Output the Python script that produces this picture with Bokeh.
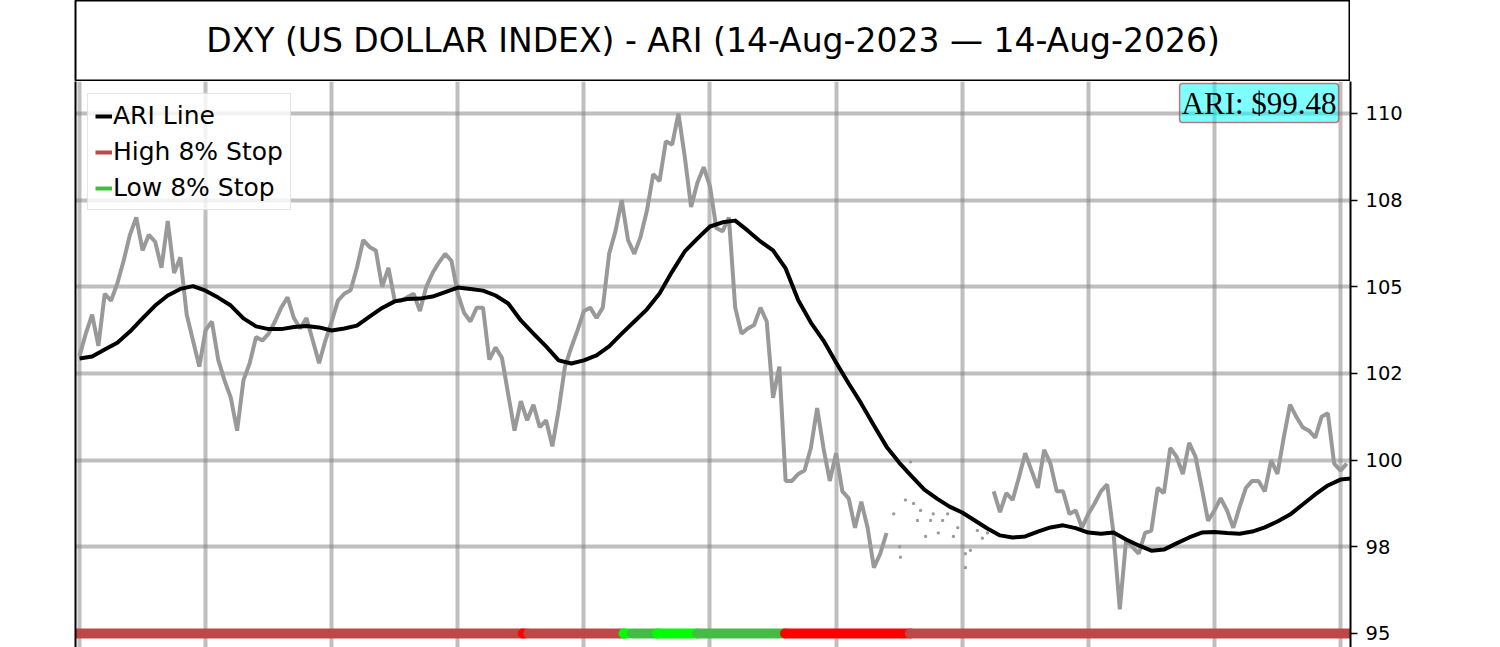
import numpy as np
from bokeh.plotting import figure
from bokeh.models import Range1d, FixedTicker, LinearAxis, Grid, Legend, LegendItem, Label
from bokeh.layouts import column
from bokeh.embed import file_html
from bokeh.resources import INLINE
from bokeh.core.properties import value

# ---------------- data ----------------
title_text = "DXY (US DOLLAR INDEX) - ARI (14-Aug-2023 \u2014 14-Aug-2026)"

# DXY closes sampled about weekly (sample index 0..201); nan = no continuous data
price_values = [
    103.0, 103.65, 104.2, 103.3, 104.8, 104.6, 105.1, 105.75, 106.5, 107.0,
    106.05, 106.5, 106.3, 105.55, 106.9, 105.4, 105.85, 104.2, 103.45, 102.7,
    103.75, 104.0, 102.9, 102.3, 101.8, 100.85, 102.3, 102.8, 103.55, 103.45,
    103.65, 104.0, 104.4, 104.7, 104.1, 103.8, 104.1, 103.45, 102.8, 103.45,
    104.0, 104.6, 104.8, 104.9, 105.55, 106.35, 106.15, 106.05, 105.0, 105.55,
    104.6, 104.6, 104.7, 104.8, 104.3, 105.0, 105.4, 105.7, 105.95, 105.75,
    104.8, 104.25, 104.0, 104.4, 104.4, 102.9, 103.25, 102.95, 101.9, 100.85,
    101.7, 101.15, 101.6, 100.95, 101.15, 100.4, 101.45, 102.7, 103.25, 103.75,
    104.3, 104.4, 104.1, 104.4, 105.95, 106.6, 107.5, 106.35, 105.95, 106.45,
    107.2, 108.25, 108.05, 109.2, 109.1, 110.0, 108.75, 107.3, 108.0, 108.45,
    107.9, 106.7, 106.6, 107.0, 104.4, 103.65, 103.8, 103.9, 104.4, 104.0,
    101.8, 102.7, 99.4, 99.4, 99.6, 99.7, 100.35, 101.5, 100.35, 99.4,
    100.2, 99.1, 98.9, 98.05, 98.8, 98.05, 96.9, 97.3, 97.9, np.nan,
    np.nan, np.nan, np.nan, np.nan, np.nan, np.nan, np.nan, np.nan, np.nan, np.nan,
    np.nan, np.nan, np.nan, np.nan, np.nan, 99.1, 98.5, 99.05, 98.85, 99.5,
    100.2, 99.7, 99.2, 100.3, 99.9, 99.1, 99.1, 98.45, 98.55, 98.05,
    98.45, 98.75, 99.1, 99.3, 97.9, 95.7, 97.7, 97.5, 97.3, 97.9,
    97.97, 99.2, 99.05, 100.35, 100.1, 99.6, 100.5, 100.1, 99.2, 98.25,
    98.55, 98.9, 98.55, 98.05, 98.65, 99.2, 99.4, 99.4, 99.1, 100.0,
    99.6, 100.65, 101.6, 101.25, 100.95, 100.85, 100.65, 101.25, 101.35, 99.9,
    99.7, 99.9,
]

# isolated prints in the thin-data stretch
sparse_idx = [129.15, 130.1, 130.2, 131.0, 131.8, 132.3, 132.9, 133.4, 134.2, 135.0,
              135.4, 136.2, 136.9, 137.7, 138.6, 139.3, 140.5, 140.5, 141.3, 142.4,
              143.2, 144.0]
sparse_values = [98.45, 97.5, 97.2, 98.85, 99.95, 98.75, 98.26, 98.55, 97.8, 98.26,
                 98.45, 97.9, 98.26, 98.45, 97.8, 98.05, 97.3, 96.9, 97.4, 97.97,
                 97.75, 97.9]

# ARI line, one value every 2 samples
ari_step = 2
ari_values = [
    102.93, 102.99, 103.19, 103.39, 103.71, 104.09, 104.46, 104.75, 104.94, 105.02,
    104.89, 104.69, 104.46, 104.09, 103.86, 103.78, 103.78, 103.84, 103.87, 103.83,
    103.74, 103.80, 103.88, 104.14, 104.39, 104.58, 104.65, 104.66, 104.72, 104.85,
    104.98, 104.94, 104.89, 104.75, 104.52, 104.03, 103.65, 103.28, 102.88, 102.79,
    102.88, 103.02, 103.28, 103.65, 104.00, 104.35, 104.81, 105.44, 106.02, 106.39,
    106.74, 106.86, 106.91, 106.62, 106.31, 106.05, 105.53, 104.61, 103.97, 103.45,
    102.82, 102.21, 101.63, 101.00, 100.39, 99.93, 99.53, 99.15, 98.89, 98.66,
    98.49, 98.26, 98.03, 97.83, 97.77, 97.80, 97.94, 98.06, 98.12, 98.04,
    97.91, 97.88, 97.91, 97.71, 97.54, 97.39, 97.42, 97.60, 97.77, 97.91,
    97.93, 97.90, 97.88, 97.94, 98.06, 98.23, 98.43, 98.72, 99.01, 99.27,
    99.44, 99.48,
]

# 8% stop state bar
stop_level = 95
stop_start = [-2, 70.3, 71.2, 86.3, 87.6, 91.6, 98.0, 111.9, 131.7]
stop_end = [70.3, 70.9, 86.4, 87.1, 91.8, 98.0, 112.0, 131.8, 202]
stop_state = ["high", "high_new", "high", "low_new", "low", "low_new", "low", "high_new", "high"]

y_tick_values = [95, 97.5, 100, 102.5, 105, 107.5, 110]
y_tick_labels = ["95", "98", "100", "102", "105", "108", "110"]
x_grid_idx = [0, 20, 40, 60, 80, 100, 120, 140, 160, 180, 200]

legend_labels = ["ARI Line", "High 8% Stop", "Low 8% Stop"]

# ---------------- styling ----------------
FONT = "DejaVu Sans"
HIGH = "#BD4846"
LOW = "#44BB44"
state_colors = {"high": HIGH, "high_new": "#FF0000", "low": LOW, "low_new": "#00FF00"}

# ---------------- title box ----------------
t = figure(frame_width=1275, frame_height=81, x_range=Range1d(0, 1), y_range=Range1d(0, 81),
           x_axis_location=None, y_axis_location=None, toolbar_location=None,
           output_backend="svg", min_border=0, min_border_left=75,
           outline_line_color="black", outline_line_width=2)
t.grid.visible = False
t.text(x=[0.5], y=[41], text=[title_text], text_font=value(FONT), text_font_size="33px",
       text_align="center", text_baseline="middle", text_color="black")

# ---------------- main plot ----------------
p = figure(frame_width=1275, frame_height=566,
           x_range=Range1d(-0.634, 201.59), y_range=Range1d(94.596, 110.923),
           y_axis_location="right", x_axis_location=None, toolbar_location=None,
           output_backend="svg", min_border=0, min_border_left=75,
           outline_line_color=None, background_fill_color="white")

ax = p.yaxis[0]
ax.ticker = FixedTicker(ticks=y_tick_values)
ax.major_label_overrides = {v: l for v, l in zip(y_tick_values, y_tick_labels)}
ax.major_label_text_font = FONT
ax.major_label_text_font_size = "19.5px"
ax.major_label_text_color = "black"
ax.major_tick_out = 7
ax.major_tick_in = 0
ax.major_tick_line_width = 1.5
ax.major_tick_line_color = "black"
ax.minor_tick_line_color = None
ax.axis_line_color = "black"
ax.axis_line_width = 2
ax.major_label_standoff = 8

p.grid.visible = False
ygrid = Grid(dimension=1, ticker=FixedTicker(ticks=y_tick_values), grid_line_color="#808080",
             grid_line_alpha=0.5, grid_line_width=4)
xgrid = Grid(dimension=0, ticker=FixedTicker(ticks=x_grid_idx), grid_line_color="#808080",
             grid_line_alpha=0.5, grid_line_width=4)
p.add_layout(ygrid)
p.add_layout(xgrid)

left_edge = LinearAxis(ticker=FixedTicker(ticks=[]), axis_line_color="black", axis_line_width=2,
                       major_tick_line_color=None, minor_tick_line_color=None,
                       major_label_text_font_size="0px")
p.add_layout(left_edge, "left")

px = np.arange(len(price_values))
p.line(x=px, y=np.array(price_values, dtype=float), line_color="#999999", line_width=4)
p.scatter(x=sparse_idx, y=sparse_values, marker="square", size=2, color="#999999")

ax_x = np.arange(len(ari_values)) * ari_step
ari_r = p.line(x=ax_x, y=ari_values, line_color="black", line_width=4, line_join="round")

p.multi_line(xs=[[s, e] for s, e in zip(stop_start, stop_end)],
             ys=[[stop_level, stop_level] for _ in stop_start],
             line_color=[state_colors[s] for s in stop_state], line_width=10, line_cap="round")

# legend-only renderers (drawn off-screen)
hi_r = p.line(x=[-50, -49], y=[90, 90], line_color=HIGH, line_width=4)
lo_r = p.line(x=[-50, -49], y=[90, 90], line_color=LOW, line_width=4)

legend = Legend(items=[LegendItem(label=legend_labels[0], renderers=[ari_r]),
                       LegendItem(label=legend_labels[1], renderers=[hi_r]),
                       LegendItem(label=legend_labels[2], renderers=[lo_r])],
                location="top_left", label_text_font=FONT, label_text_font_size="25px",
                label_text_color="black",
                glyph_width=17, glyph_height=24, label_height=24, label_standoff=1,
                spacing=7, padding=7, margin=12, border_line_color="#cccccc",
                border_line_width=1.5, background_fill_color="white", background_fill_alpha=0.8)
p.add_layout(legend)

lab = Label(x=199.7, y=110.30, text=f"ARI: ${ari_values[-1]:.2f}", text_font="Liberation Serif",
            text_font_size="31px", text_align="right", text_baseline="middle", text_color="black",
            background_fill_color="#00FFFF", background_fill_alpha=0.5,
            border_line_color="#B22222", border_line_alpha=0.6, border_line_width=1.5,
            padding=2, border_radius=3)
p.add_layout(lab)

layout = column(t, p, spacing=0)
open("out.html", "w").write(file_html(layout, INLINE))
